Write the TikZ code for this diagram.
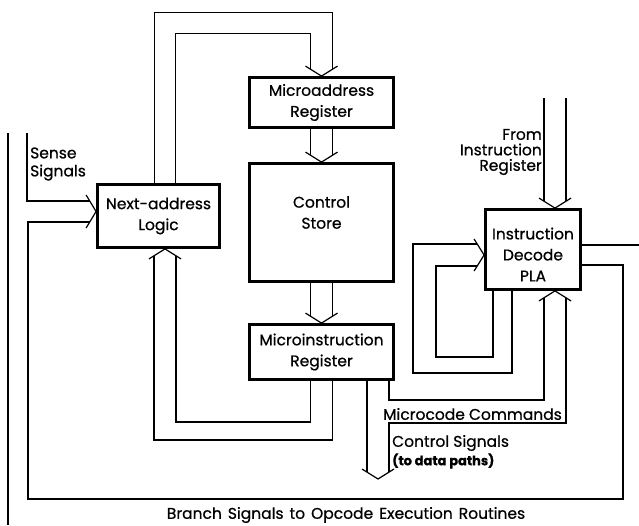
\documentclass[tikz,border=0pt]{standalone}
\usepackage{fontspec}
\setmainfont{Poppins}[FakeBold=0.7]
\usetikzlibrary{calc}
\newcommand\dgfont{\fontsize{15.5}{21}\selectfont}
\begin{document}
\begin{tikzpicture}[x=1pt,y=-1pt,
  wire/.style={line width=1.2pt, line join=miter},
  blk/.style={draw, line width=2.8pt, inner sep=0pt, align=center, font=\dgfont},
  txt/.style={inner sep=0pt, font=\dgfont}]
\useasboundingbox[fill=white] (0,0) rectangle (639,525);
% blocks
\node[blk, minimum width=122pt, minimum height=63pt] (nal) at (158.5,216) {Next-address\\Logic};
\node[blk, minimum width=144pt, minimum height=50pt] (mar) at (321.5,102.5) {Microaddress\\Register};
\node[blk, minimum width=144pt, minimum height=118pt,
  label={[txt,align=center,yshift=10pt]center:Control\\Store}] (cs) at (321.5,222.5) {};
\node[blk, minimum width=144pt, minimum height=55pt] (mir) at (321.5,352) {Microinstruction\\Register};
\node[blk, minimum width=95pt, minimum height=80pt,
  label={[txt,align=center,yshift=-5pt]center:Instruction\\Decode\\PLA}] (pla) at (533,249.5) {};
% free ends
\coordinate (ir1) at (544,98);
\coordinate (ir2) at (566,98);
\coordinate (rout) at (639,245);
\coordinate (sense) at (27,133);
\coordinate (edgeA) at (8,133);
\coordinate (edgeB) at (8,525);
\coordinate (csig) at (378,479);
% arrow tips
\coordinate (nalin) at ($(nal.south)+(6.5,0)$);
\coordinate (nall) at ($(nal.west)+(0,-4.5)$);
\coordinate (plab) at ($(pla.south)+(22,0)$);
\coordinate (plat) at ($(pla.north)+(22,0)$);
\coordinate (plal) at ($(pla.west)+(0,5.5)$);
% NAL -> MAR
\draw[wire] ($(nal.north)+(-4,0)$) -- ++(0,-171) -| ($(mar.north)+(11,-6.9)$);
\draw[wire] ($(nal.north)+(17,0)$) -- ++(0,-150) -| ($(mar.north)+(-11,-6.9)$);
\draw[wire] ($(mar.north)+(-16,-10)$) -- (mar.north) -- ++(16,-10);
% MAR -> CS
\draw[wire] ($(mar.south)+(-11,0)$) -- ($(cs.north)+(-11,-6.9)$);
\draw[wire] ($(mar.south)+(11,0)$) -- ($(cs.north)+(11,-6.9)$);
\draw[wire] ($(cs.north)+(-16,-10)$) -- (cs.north) -- ++(16,-10);
% CS -> MIR
\draw[wire] ($(cs.south)+(-11,0)$) -- ($(mir.north)+(-11,-6.9)$);
\draw[wire] ($(cs.south)+(11,0)$) -- ($(mir.north)+(11,-6.9)$);
\draw[wire] ($(mir.north)+(-16,-10)$) -- (mir.north) -- ++(16,-10);
% MIR -> NAL
\draw[wire] ($(mir.south)+(11,0)$) -- ++(0,59) -| ($(nalin)+(-11,6.9)$);
\draw[wire] ($(mir.south)+(-11,0)$) -- ++(0,41) -| ($(nalin)+(11,6.9)$);
\draw[wire] ($(nalin)+(-16,10)$) -- (nalin) -- ++(16,10);
% MIR -> control signals / microcode commands -> PLA
\draw[wire] ($(mir.south)+(45.5,0)$) -- ($(csig)+(-11,-6.9)$);
\draw[wire] ($(mir.south)+(67.5,0)$) -- ++(0,19) -| ($(plab)+(-11,6.9)$);
\draw[wire] ($(plab)+(11,6.9)$) |- ($(csig)+(11,-56)$) -- ($(csig)+(11,-6.9)$);
\draw[wire] ($(plab)+(-16,10)$) -- (plab) -- ++(16,10);
\draw[wire] ($(csig)+(-16,-10)$) -- (csig) -- ++(16,-10);
% instruction register -> PLA
\draw[wire] (ir1) -- ($(plat)+(-11,-6.9)$);
\draw[wire] (ir2) -- ($(plat)+(11,-6.9)$);
\draw[wire] ($(plat)+(-16,-10)$) -- (plat) -- ++(16,-10);
% PLA feedback
\draw[wire] ($(pla.south)+(-21,0)$) -- ++(0,82) -- ++(-99,0) |- ($(plal)+(-6.9,-11)$);
\draw[wire] ($(pla.south)+(-40,0)$) -- ++(0,66) -- ++(-57,0) |- ($(plal)+(-6.9,11)$);
\draw[wire] ($(plal)+(-10,-16)$) -- (plal) -- ++(-10,16);
% PLA outputs
\draw[wire] ($(pla.east)+(0,-4.5)$) -- (rout);
\draw[wire] ($(pla.east)+(0,15.5)$) -- ++(41,0) -- ++(0,234) -- ++(-595,0) |- ($(nall)+(-6.4,10.5)$);
\draw[wire] (sense) |- ($(nall)+(-6.4,-10.5)$);
\draw[wire] ($(nall)+(-10,-16.5)$) -- (nall) -- ++(-10,16.5);
\draw[wire] (edgeA) -- (edgeB);
% labels
\node[txt, anchor=west, align=left, font=\fontsize{15.5}{18}\selectfont] (sl) at (30,164) {Sense\\Signals};
\node[txt, anchor=east, align=right, font=\fontsize{15.5}{15.5}\selectfont] (irl) at (542,152) {From\\Instruction\\Register};
\node[txt, anchor=west] (mcl) at (383,414) {Microcode Commands};
\node[txt, anchor=west] (csl) at (392,443) {Control Signals};
\node[txt, anchor=west, font=\fontsize{13}{15}\selectfont\bfseries] (dpl) at (392,461) {(to data paths)};
\node[txt] (bsl) at (346,515) {\spaceskip=6pt plus 1pt Branch Signals to Opcode Execution Routines};
\end{tikzpicture}
\end{document}
